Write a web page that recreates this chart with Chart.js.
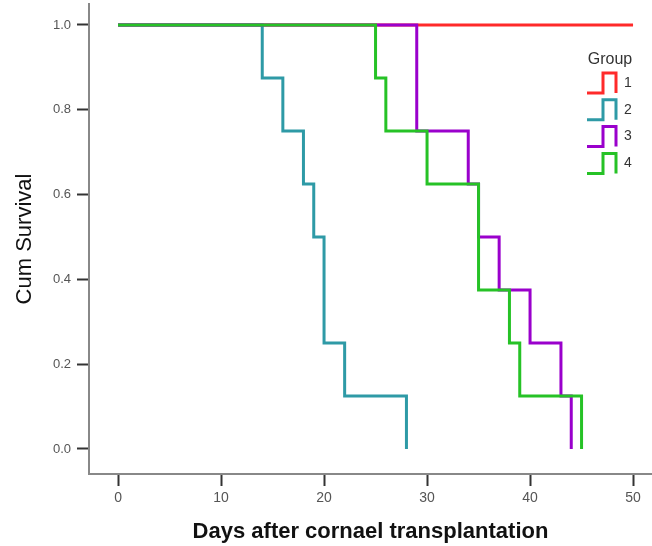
<!DOCTYPE html>
<html>
<head>
<meta charset="utf-8">
<script src="https://cdn.jsdelivr.net/npm/chart.js@4"></script>
<style>
  html, body { margin: 0; padding: 0; background: #fff; }
  #wrap { width: 652px; height: 546px; }
</style>
</head>
<body>
<div id="wrap"><canvas id="kmChart" width="652" height="546"></canvas></div>
<script>
// Kaplan-Meier curves
var groups = ["1", "2", "3", "4"];
var groupColors = ["#ff2a2a", "#2e9aa6", "#9a00cc", "#26c226"];

var days1 = [0, 50];
var surv1 = [1, 1];
var days2 = [0, 14, 16, 18, 19, 20, 22, 28];
var surv2 = [1, 0.875, 0.75, 0.625, 0.5, 0.25, 0.125, 0];
var days3 = [0, 29, 34, 35, 37, 40, 43, 44];
var surv3 = [1, 0.75, 0.625, 0.5, 0.375, 0.25, 0.125, 0];
var days4 = [0, 25, 26, 30, 35, 38, 39, 45];
var surv4 = [1, 0.875, 0.75, 0.625, 0.375, 0.25, 0.125, 0];

var xTicks = [0, 10, 20, 30, 40, 50];
var yTicks = [0, 0.2, 0.4, 0.6, 0.8, 1.0];

var allDays = [days1, days2, days3, days4];
var allSurv = [surv1, surv2, surv3, surv4];

function toPoints(d, s) {
  return d.map(function (v, i) { return {x: v, y: s[i]}; });
}

var datasets = groups.map(function (g, i) {
  return {
    label: g,
    data: toPoints(allDays[i], allSurv[i]),
    borderColor: groupColors[i],
    borderWidth: 3,
    stepped: true,
    pointRadius: 0,
    fill: false,
    order: 4 - i
  };
});

// legend with little step icons, top right
var stepLegend = {
  id: "stepLegend",
  afterDraw: function (chart) {
    var ctx = chart.ctx;
    ctx.save();
    ctx.fillStyle = "#333";
    ctx.font = "16px 'Liberation Sans', Arial, sans-serif";
    ctx.textAlign = "center";
    ctx.textBaseline = "middle";
    ctx.fillText("Group", 610, 60);
    chart.data.datasets.forEach(function (ds, i) {
      var cy = 83 + i * 26.8;
      ctx.strokeStyle = ds.borderColor;
      ctx.lineWidth = 3;
      ctx.lineJoin = "miter";
      ctx.beginPath();
      ctx.moveTo(587, cy + 10);
      ctx.lineTo(603, cy + 10);
      ctx.lineTo(603, cy - 10);
      ctx.lineTo(616, cy - 10);
      ctx.lineTo(616, cy + 10);
      ctx.stroke();
      ctx.fillStyle = "#333";
      ctx.font = "14px 'Liberation Sans', Arial, sans-serif";
      ctx.textAlign = "left";
      ctx.fillText(ds.label, 624, cy);
    });
    ctx.restore();
  }
};

new Chart("kmChart", {
  type: "line",
  data: { datasets: datasets },
  options: {
    responsive: false,
    animation: false,
    layout: { padding: { top: 4, right: 0, left: 0, bottom: 0 } },
    plugins: { legend: { display: false }, tooltip: { enabled: false } },
    scales: {
      x: {
        type: "linear",
        min: -2.82,
        max: 51.84,
        afterBuildTicks: function (s) { s.ticks = xTicks.map(function (v) { return {value: v}; }); },
        afterFit: function (s) { s.height = 72; s.paddingLeft = 0; s.paddingRight = 0; },
        grid: { drawOnChartArea: false, tickLength: 12, tickColor: "#333", tickWidth: 2 },
        border: { color: "#888", width: 2 },
        ticks: { color: "#555", padding: 4, font: { size: 14, family: "'Liberation Sans', Arial" } },
        title: {
          display: true,
          text: "Days after cornael transplantation",
          color: "#111",
          padding: { top: 0, bottom: 1 },
          font: { size: 22, weight: "bold", family: "'Liberation Sans', Arial" }
        }
      },
      y: {
        min: -0.059,
        max: 1.0495,
        afterBuildTicks: function (s) { s.ticks = yTicks.map(function (v) { return {value: v}; }); },
        afterFit: function (s) { s.width = 89; s.paddingTop = 0; s.paddingBottom = 0; },
        grid: { drawOnChartArea: false, tickLength: 12, tickColor: "#333", tickWidth: 2 },
        border: { color: "#888", width: 2 },
        ticks: {
          color: "#555",
          padding: 6,
          font: { size: 13, family: "'Liberation Sans', Arial" },
          callback: function (v) { return Number(v).toFixed(1); }
        },
        title: {
          display: true,
          text: "Cum Survival",
          color: "#111",
          padding: { top: 12, bottom: 0 },
          font: { size: 22, family: "'Liberation Sans', Arial" }
        }
      }
    }
  },
  plugins: [stepLegend]
});
</script>
</body>
</html>
